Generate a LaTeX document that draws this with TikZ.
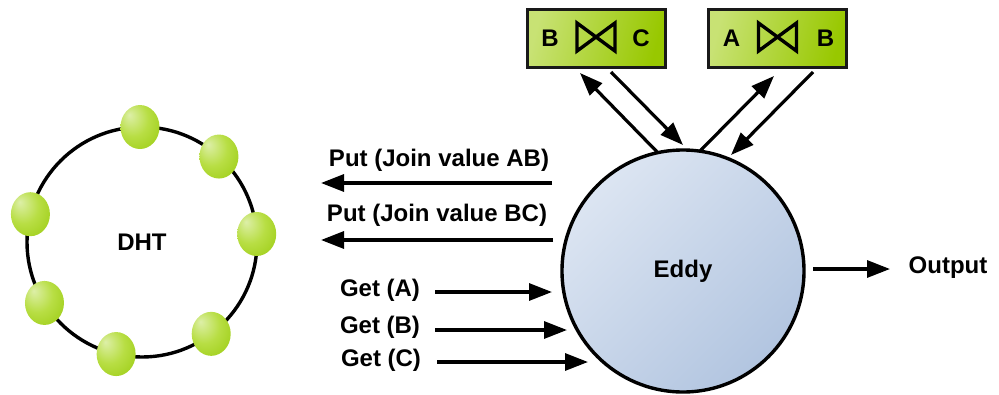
\documentclass[tikz,border=0pt]{standalone}
\usepackage{fontspec}
\setmainfont{Liberation Sans}
\usetikzlibrary{arrows.meta,shapes.geometric,calc}

\definecolor{eddyLight}{HTML}{DCE5F2}
\definecolor{eddyDark}{HTML}{B2C5E0}
\definecolor{peerLight}{HTML}{DDEFA8}
\definecolor{peerMid}{HTML}{B8DE44}
\definecolor{peerDark}{HTML}{9ACB10}
\definecolor{boxLight}{HTML}{C8E274}
\definecolor{boxDark}{HTML}{98C800}

% green peer balls, lit from the upper left
\pgfdeclareradialshading{greenball}{\pgfpoint{-14bp}{14bp}}{%
  color(0bp)=(peerLight); color(20bp)=(peerMid); color(42bp)=(peerDark); color(60bp)=(peerDark)}

\begin{document}
\begin{tikzpicture}[x=1pt,y=-1pt,
  lbl/.style={font=\fontsize{24}{28}\selectfont\bfseries, inner sep=0pt},
  arr/.style={line width=3.2pt, -{Triangle[length=23pt,width=17pt]}},
  ring/.style={circle, draw, line width=3.4pt, minimum size=230pt, outer sep=0pt,
    inner sep=0pt, font=\fontsize{24}{28}\selectfont\bfseries},
  peer/.style={ellipse, minimum width=39pt, minimum height=44pt, inner sep=0pt,
    shading=greenball},
  eddynode/.style={circle, draw, line width=3.4pt, minimum size=242pt, outer sep=0pt,
    inner sep=0pt, left color=eddyLight, right color=eddyDark, shading angle=45,
    font=\fontsize{24}{28}\selectfont\bfseries},
  joinbox/.style={rectangle, draw=black!90, line width=3pt, minimum width=138pt,
    minimum height=58pt, inner sep=0pt, left color=boxLight, right color=boxDark,
    shading angle=75},
  bowtie/.style={line width=3.4pt, line join=miter}
]
\useasboundingbox (0,0) rectangle (999,394);

% ---------- DHT ring with its peers ----------
\node[ring] (dht) at (142,242) {DHT};
\foreach \a [count=\i] in {91.5,48.5,166.6,4.5,212.4,307.6,257.7}
  \node[peer] (p\i) at (dht.\a) {};

% ---------- Eddy ----------
\node[eddynode] (eddy) at (683,271) {Eddy};

% ---------- join operators ----------
\node[joinbox] (bc) at (596,38) {};
\node[lbl] (bcL) at ([xshift=-46pt]bc.center) {B};
\node[lbl] (bcR) at ([xshift=45pt]bc.center) {C};
\draw[bowtie] ($(bc.center)+(-19,-15)$) -- ++(0,28) -- ++(38,-28) -- ++(0,28) -- cycle;

\node[joinbox] (ab) at (777.5,38) {};
\node[lbl] (abL) at ([xshift=-46pt]ab.center) {A};
\node[lbl] (abR) at ([xshift=48pt]ab.center) {B};
\draw[bowtie] ($(ab.center)+(-19,-15)$) -- ++(0,28) -- ++(38,-28) -- ++(0,28) -- cycle;

% ---------- arrows between Eddy and the join operators ----------
\coordinate (bcIn)  at (580,73);
\coordinate (bcOut) at (611,72);
\coordinate (eBC)   at (683,145);
\coordinate (abIn)  at (774,76);
\coordinate (abOut) at (813,72);
\coordinate (eAB)   at (731,155);
\draw[arr] (eddy.102) -- (bcIn);
\draw[arr] (bcOut) -- (eBC);
\draw[arr] (eddy.82) -- (abIn);
\draw[arr] (abOut) -- (eAB);

% ---------- puts towards the DHT ----------
\node[lbl] (putAB) at (439,160) {Put (Join value AB)};
\node[lbl] (putBC) at (437,215) {Put (Join value BC)};
\coordinate (putABs) at (552,183);
\coordinate (putABt) at (321,183);
\coordinate (putBCs) at (553,240);
\coordinate (putBCt) at (321,240);
\draw[arr] (putABs) -- (putABt);
\draw[arr] (putBCs) -- (putBCt);

% ---------- gets into Eddy ----------
\node[lbl] (getA) at (380,290) {Get (A)};
\node[lbl] (getB) at (380,327) {Get (B)};
\node[lbl] (getC) at (381,360) {Get (C)};
\coordinate (getAs) at (435,292);
\coordinate (getAt) at (552,292);
\coordinate (getBs) at (435,330);
\coordinate (getBt) at (567,330);
\coordinate (getCs) at (437,362);
\coordinate (getCt) at (588,362);
\draw[arr] (getAs) -- (getAt);
\draw[arr] (getBs) -- (getBt);
\draw[arr] (getCs) -- (getCt);

% ---------- output ----------
\node[lbl] (out) at (948,268) {Output};
\coordinate (outS) at (813,269);
\coordinate (outT) at (890,269);
\draw[arr] (outS) -- (outT);
\end{tikzpicture}
\end{document}
